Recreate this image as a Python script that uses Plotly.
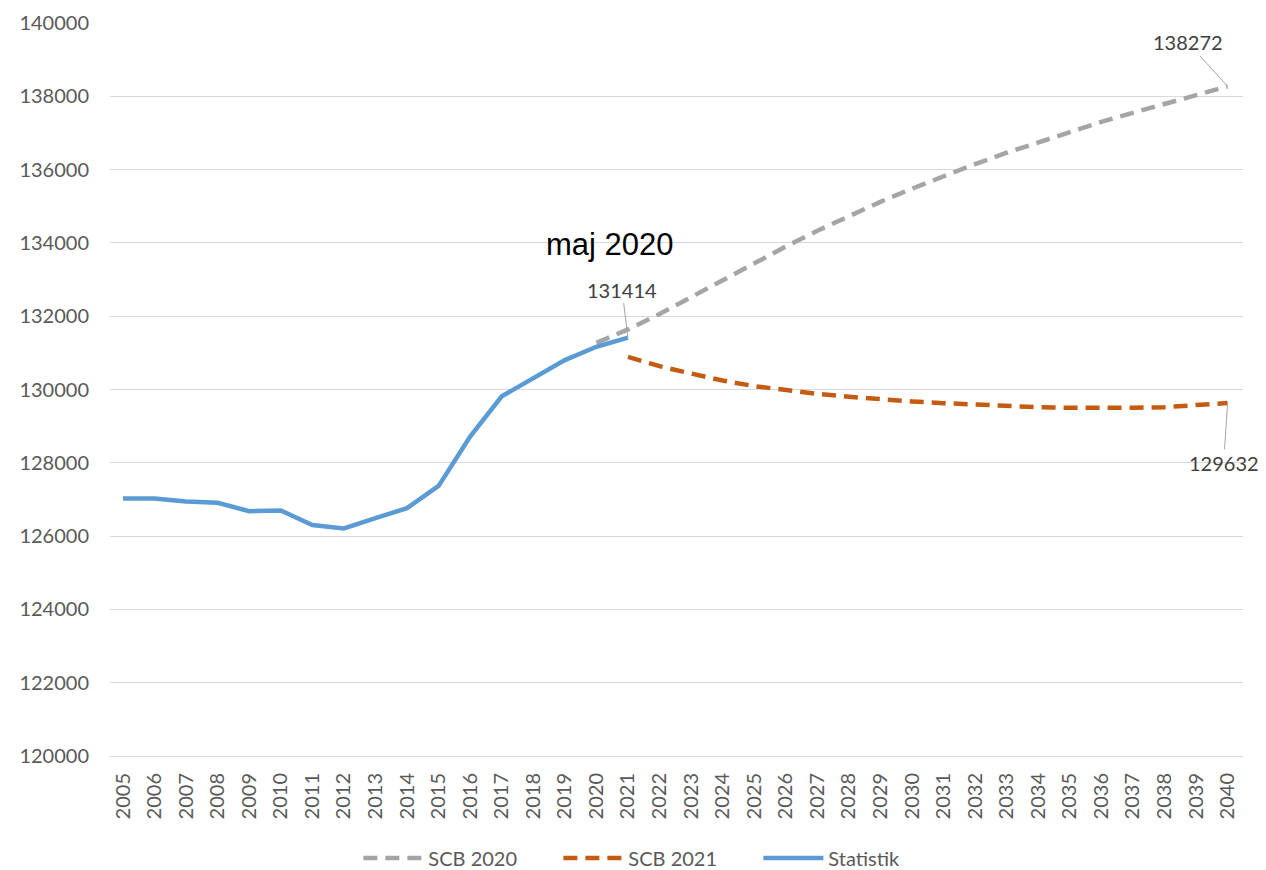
import plotly.graph_objects as go

years = list(range(2005, 2041))

statistik_years = list(range(2005, 2022))
statistik = [127026, 127026, 126944, 126908, 126681, 126699, 126300, 126209, 126490,
             126763, 127371, 128715, 129813, 130294, 130802, 131165, 131414]

scb2020_years = list(range(2020, 2041))
scb2020 = [131272, 131640, 132060, 132520, 132990, 133450, 133900, 134330, 134740,
           135120, 135480, 135820, 136150, 136460, 136750, 137030, 137300, 137550,
           137790, 138030, 138272]

scb2021_years = list(range(2021, 2041))
scb2021 = [130891, 130636, 130436, 130245, 130091, 129973, 129882, 129800, 129727,
           129673, 129627, 129582, 129545, 129518, 129500, 129491, 129500, 129518,
           129564, 129632]

y_ticks = list(range(120000, 140001, 2000))

FONT = "Lato"
GRAY_TXT = "#595959"

fig = go.Figure()
fig.add_trace(go.Scatter(x=scb2020_years, y=scb2020, name="SCB 2020", mode="lines",
                         line=dict(color="#A5A5A5", width=4.5, dash="14px,8px")))
fig.add_trace(go.Scatter(x=scb2021_years, y=scb2021, name="SCB 2021", mode="lines",
                         line=dict(color="#C55A11", width=4.5, dash="14px,8px")))
fig.add_trace(go.Scatter(x=statistik_years, y=statistik, name="Statistik", mode="lines",
                         line=dict(color="#5B9BD5", width=4.5)))

ann_font = dict(family=FONT, size=20, color="#404040")
fig.add_annotation(x=2021, y=statistik[-1], text=str(statistik[-1]), showarrow=True,
                   arrowhead=0, arrowwidth=1, arrowcolor="#A5A5A5", ax=-6, ay=-48,
                   font=ann_font)
fig.add_annotation(x=2040, y=scb2020[-1], text=str(scb2020[-1]), showarrow=True,
                   arrowhead=0, arrowwidth=1, arrowcolor="#A5A5A5", ax=-40, ay=-44,
                   font=ann_font)
fig.add_annotation(x=2040, y=scb2021[-1], text=str(scb2021[-1]), showarrow=True,
                   arrowhead=0, arrowwidth=1, arrowcolor="#A5A5A5", ax=-4, ay=60,
                   font=ann_font)
fig.add_annotation(x=2020.44, y=133950, text="maj 2020", showarrow=False,
                   font=dict(family="Liberation Sans", size=31, color="#000000"))

# page body has an 8px margin; the figure is sized/margined to compensate
fig.update_layout(
    width=1258, height=862,
    margin=dict(l=102, r=23, t=15, b=114, autoexpand=False),
    paper_bgcolor="white", plot_bgcolor="white",
    font=dict(family=FONT, size=20, color=GRAY_TXT),
    showlegend=True,
    legend=dict(orientation="h", x=0.484, xanchor="center", y=-0.139, yanchor="middle",
                font=dict(family=FONT, size=20, color=GRAY_TXT),
                itemwidth=60, entrywidth=125),
)
fig.update_xaxes(range=[2004.588, 2040.488], tickmode="array", tickvals=years,
                 ticktext=[str(y) for y in years], tickangle=-90, showgrid=False,
                 zeroline=False, showline=True, linecolor="#D9D9D9", linewidth=1,
                 ticks="", ticklabelstandoff=8, automargin=False,
                 tickfont=dict(family=FONT, size=20, color=GRAY_TXT))
fig.update_yaxes(range=[120000, 140000], tickmode="array", tickvals=y_ticks,
                 ticktext=[str(v) for v in y_ticks], showgrid=True, gridcolor="#D9D9D9",
                 gridwidth=1, zeroline=False, ticks="", ticklabelstandoff=20,
                 automargin=False,
                 tickfont=dict(family=FONT, size=20, color=GRAY_TXT))

fig.write_html("out.html")
